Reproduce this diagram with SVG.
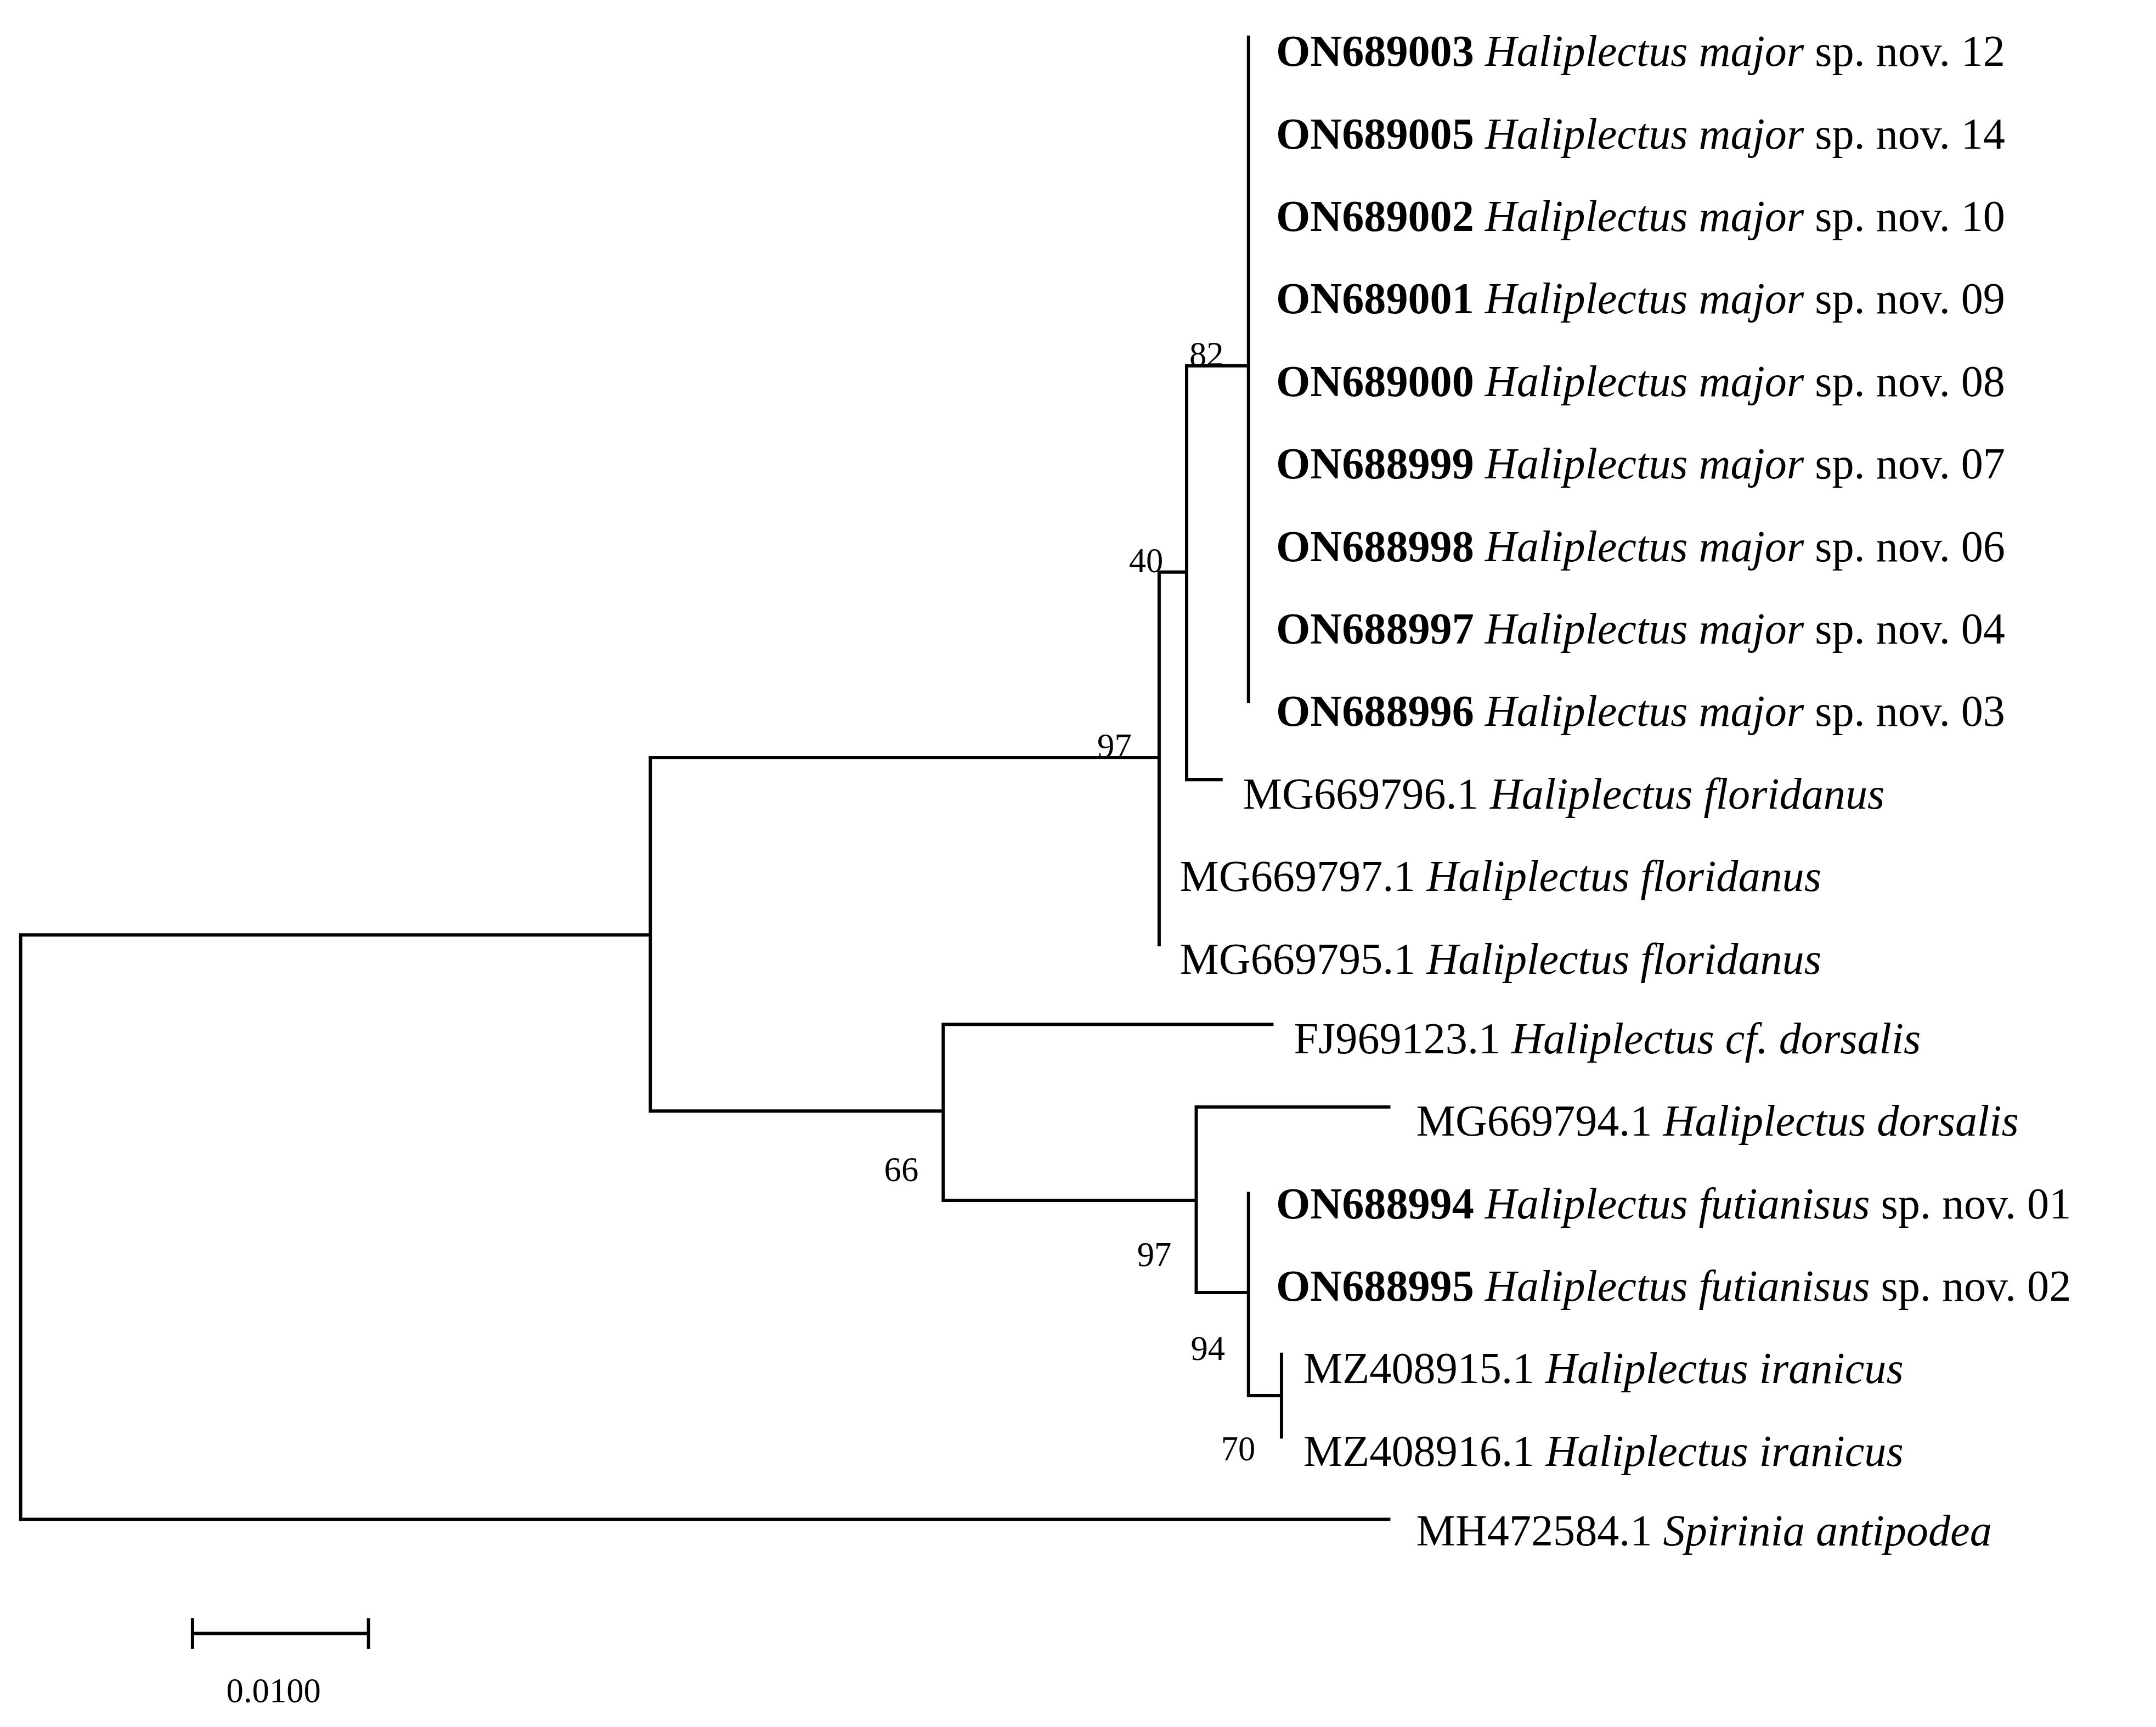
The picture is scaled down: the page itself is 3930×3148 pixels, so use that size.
<svg xmlns="http://www.w3.org/2000/svg" width="3930" height="3148" viewBox="0 0 3930 3148">
<style>
.t{font-family:"Liberation Serif","DejaVu Serif",serif;font-size:32px;fill:#000}
.b{font-weight:bold}.i{font-style:italic}
.n{font-family:"Liberation Serif","DejaVu Serif",serif;font-size:25px;fill:#000}
#edges path{stroke:#000;stroke-width:2.4;fill:none;stroke-linecap:square}
</style>
<rect width="3930" height="3148" fill="#fff"/>
<g transform="scale(2.5064)">
<g id="edges">
<path d="M908,27V510M863,266H908M863,266V567H888M843,416H863M843,416V687M473,551H843M473,551V808M15,680H473M473,808H686M686,745V873M686,745H925M686,873H870M870,805V940M870,805H1010M870,940H908M908,868V1015M908,1015H932M932,985V1045M15,680V1105H1010"/>
<path d="M140,1188H268M140,1178V1198M268,1178V1198"/>
</g>
<g id="labels">
<text class="n" x="865" y="266">82</text>
<text class="n" x="821" y="416">40</text>
<text class="n" x="798" y="551">97</text>
<text class="n" x="643" y="859">66</text>
<text class="n" x="827" y="921">97</text>
<text class="n" x="866" y="989">94</text>
<text class="n" x="888" y="1062">70</text>
<text class="n" x="199" y="1238" text-anchor="middle">0.0100</text>
</g>
<g id="leaves">
<text class="t" x="928" y="48"><tspan class="b">ON689003</tspan> <tspan class="i">Haliplectus major</tspan> sp. nov. 12</text>
<text class="t" x="928" y="108"><tspan class="b">ON689005</tspan> <tspan class="i">Haliplectus major</tspan> sp. nov. 14</text>
<text class="t" x="928" y="168"><tspan class="b">ON689002</tspan> <tspan class="i">Haliplectus major</tspan> sp. nov. 10</text>
<text class="t" x="928" y="228"><tspan class="b">ON689001</tspan> <tspan class="i">Haliplectus major</tspan> sp. nov. 09</text>
<text class="t" x="928" y="288"><tspan class="b">ON689000</tspan> <tspan class="i">Haliplectus major</tspan> sp. nov. 08</text>
<text class="t" x="928" y="348"><tspan class="b">ON688999</tspan> <tspan class="i">Haliplectus major</tspan> sp. nov. 07</text>
<text class="t" x="928" y="408"><tspan class="b">ON688998</tspan> <tspan class="i">Haliplectus major</tspan> sp. nov. 06</text>
<text class="t" x="928" y="468"><tspan class="b">ON688997</tspan> <tspan class="i">Haliplectus major</tspan> sp. nov. 04</text>
<text class="t" x="928" y="528"><tspan class="b">ON688996</tspan> <tspan class="i">Haliplectus major</tspan> sp. nov. 03</text>
<text class="t" x="904" y="588">MG669796.1 <tspan class="i">Haliplectus floridanus</tspan></text>
<text class="t" x="858" y="648">MG669797.1 <tspan class="i">Haliplectus floridanus</tspan></text>
<text class="t" x="858" y="708">MG669795.1 <tspan class="i">Haliplectus floridanus</tspan></text>
<text class="t" x="941" y="766">FJ969123.1 <tspan class="i">Haliplectus cf. dorsalis</tspan></text>
<text class="t" x="1030" y="826">MG669794.1 <tspan class="i">Haliplectus dorsalis</tspan></text>
<text class="t" x="928" y="886"><tspan class="b">ON688994</tspan> <tspan class="i">Haliplectus futianisus</tspan> sp. nov. 01</text>
<text class="t" x="928" y="946"><tspan class="b">ON688995</tspan> <tspan class="i">Haliplectus futianisus</tspan> sp. nov. 02</text>
<text class="t" x="948" y="1006">MZ408915.1 <tspan class="i">Haliplectus iranicus</tspan></text>
<text class="t" x="948" y="1066">MZ408916.1 <tspan class="i">Haliplectus iranicus</tspan></text>
<text class="t" x="1030" y="1124">MH472584.1 <tspan class="i">Spirinia antipodea</tspan></text>
</g>
</g>
</svg>
